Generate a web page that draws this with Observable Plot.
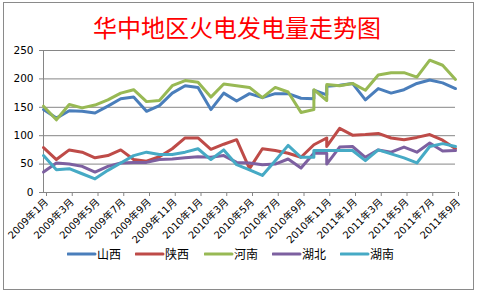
<!DOCTYPE html>
<html><head><meta charset="utf-8">
<script src="https://cdn.jsdelivr.net/npm/d3@7"></script>
<script src="https://cdn.jsdelivr.net/npm/@observablehq/plot@0.6"></script>
<style>
body{margin:0;background:#fff;}
#wrap{position:relative;width:477px;height:294px;overflow:hidden;background:#fff;}
#frame{position:absolute;left:3px;top:2px;width:471px;height:288px;border:1px solid #8a8a8a;box-sizing:border-box;}
#title{position:absolute;left:0;width:474px;top:13px;text-align:center;color:#ff0000;font-family:"Noto Sans CJK SC";font-size:24px;line-height:28px;}
#chart{position:absolute;left:0;top:0;}
#legend{position:absolute;left:0;top:244px;width:477px;height:20px;font-family:"Noto Sans CJK SC";font-size:12px;color:#000;}
.item{position:absolute;top:0;height:20px;line-height:20px;white-space:nowrap;}
.item svg{position:absolute;left:0;top:8px;}
.item span{position:absolute;left:30px;top:0;}
</style>
</head><body>
<div id="wrap">
  <div id="frame"></div>
  <div id="chart"></div>
  <div id="title">华中地区火电发电量走势图</div>
  <div id="legend"></div>
</div>
<script>
// month index for each data point (0 = 2009年1月); two readings at months 21 and 22
const monthIndex = [0,1,2,3,4,5,6,7,8,9,10,11,12,13,14,15,16,17,18,19,20,21,21,22,22,23,24,25,26,27,28,29,30,31,32];
const seriesNames = ["山西","陕西","河南","湖北","湖南"];
const seriesColors = ["#4a7ebb","#be4b48","#98b954","#7d60a0","#46aac5"];
const shanxi = [146,131,144,143,140,152,165,168,143,153,175,188,185,146,175,161,174,167,174,174,166,165,180,172,187,189,192,163,183,175,181,192,198,193,183];
const shaanxi = [79,58,75,71,61,65,75,58,55,63,77,96,96,76,85,93,42,77,74,69,62,84,84,96,81,113,101,102,104,96,93,97,102,92,77];
const henan = [152,128,155,149,154,163,175,181,160,162,188,197,194,168,191,188,185,167,185,177,141,146,181,162,190,188,192,180,207,211,211,203,233,224,199];
const hubei = [36,52,50,46,36,46,52,53,53,58,59,61,63,62,65,53,52,49,50,59,43,69,69,69,50,80,81,62,75,71,80,71,87,73,74];
const hunan = [65,40,42,33,24,39,52,65,71,67,67,71,77,58,75,49,40,30,56,83,62,62,74,74,74,74,74,56,75,68,61,52,81,86,81];
const tickLabels = ["2009年1月","2009年3月","2009年5月","2009年7月","2009年9月","2009年11月","2010年1月","2010年3月","2010年5月","2010年7月","2010年9月","2010年11月","2011年1月","2011年3月","2011年5月","2011年7月","2011年9月"];
const yTicks = [0,50,100,150,200,250];

const allValues = [shanxi, shaanxi, henan, hubei, hunan];
const data = [];
allValues.forEach((vals, s) => vals.forEach((v, i) => data.push({series: seriesNames[s], m: monthIndex[i], v})));
const xTicks = tickLabels.map((_, i) => i * 2);

const gray = "#868686";
const chart = Plot.plot({
  width: 477, height: 294,
  marginLeft: 43, marginRight: 22, marginTop: 50, marginBottom: 102,
  style: {fontFamily: "'DejaVu Sans','Noto Sans CJK SC'", fontSize: "10px", color: "#000", background: "transparent", overflow: "visible"},
  x: {domain: [0, 32]},
  y: {domain: [0, 250]},
  color: {domain: seriesNames, range: seriesColors},
  marks: [
    Plot.gridY(yTicks, {stroke: gray, strokeOpacity: 1, strokeWidth: 1}),
    Plot.axisY(yTicks, {tickSize: 4, stroke: gray, strokeOpacity: 1, tickPadding: 6, fontSize: 10.5, label: null, fill: "#000"}),
    Plot.ruleX([0], {stroke: gray}),
    Plot.ruleY([0], {stroke: gray}),
    Plot.axisX(xTicks, {tickSize: 4, stroke: gray, strokeOpacity: 1, tickRotate: -45, tickPadding: 4, dx: 3, tickFormat: d => tickLabels[d / 2], label: null, fill: "#000", fontSize: 10}),
    ...seriesNames.map(name => Plot.line(data.filter(d => d.series === name), {x: "m", y: "v", stroke: "series", strokeWidth: 3, strokeLinejoin: "round", strokeLinecap: "round"}))
  ]
});
document.getElementById("chart").appendChild(chart);

const legendX = [67, 135, 204, 272, 340];
const legend = document.getElementById("legend");
seriesNames.forEach((name, i) => {
  const div = document.createElement("div");
  div.className = "item";
  div.style.left = legendX[i] + "px";
  div.innerHTML = `<svg width="30" height="4"><line x1="1" y1="2" x2="28" y2="2" stroke="${seriesColors[i]}" stroke-width="3" stroke-linecap="round"/></svg><span>${name}</span>`;
  legend.appendChild(div);
});
</script>
</body></html>
